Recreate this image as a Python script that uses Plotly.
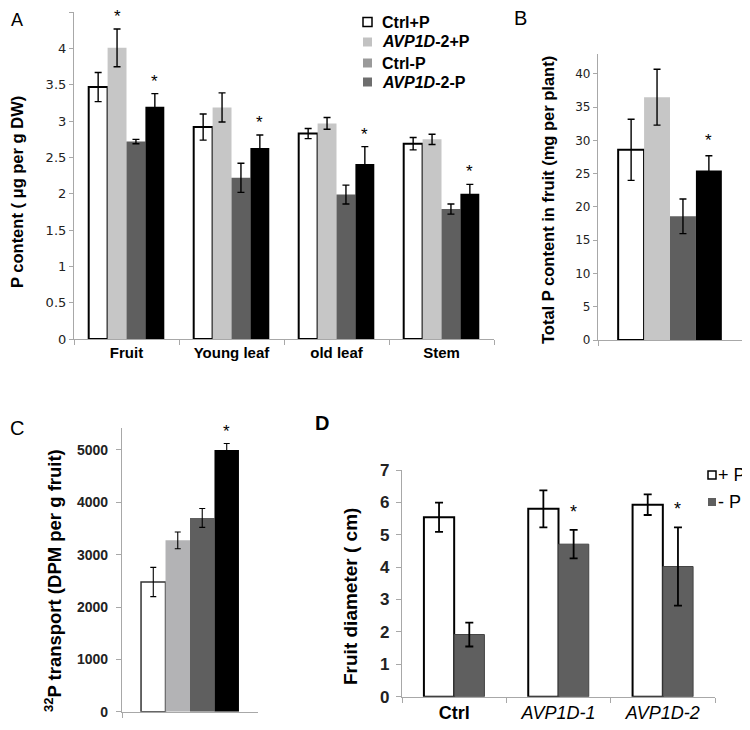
import plotly.graph_objects as go

# ---------------- data ----------------
# Panel A: P content (ug per g DW)
a_categories = ["Fruit", "Young leaf", "old leaf", "Stem"]
a_series = ["Ctrl+P", "AVP1D-2+P", "Ctrl-P", "AVP1D-2-P"]
a_ctrl_p = [3.47, 2.92, 2.83, 2.69]
a_avp_p = [4.01, 3.19, 2.97, 2.75]
a_ctrl_np = [2.72, 2.22, 1.99, 1.79]
a_avp_np = [3.20, 2.63, 2.41, 2.00]
a_err_ctrl_p = [0.20, 0.18, 0.07, 0.085]
a_err_avp_p = [0.26, 0.20, 0.08, 0.07]
a_err_ctrl_np = [0.03, 0.20, 0.13, 0.07]
a_err_avp_np = [0.18, 0.18, 0.24, 0.13]
a_sig = [(1, 0), (3, 0), (3, 1), (3, 2), (3, 3)]  # (series index, category index)

# Panel B: total P content in fruit (mg per plant)
b_values = [28.6, 36.5, 18.6, 25.5]
b_errors = [4.6, 4.2, 2.6, 2.2]
b_sig = [3]

# Panel C: 32P transport (DPM per g fruit)
c_values = [2478, 3274, 3701, 5000]
c_errors = [280, 160, 180, 125]
c_sig = [3]

# Panel D: fruit diameter (cm)
d_categories = ["Ctrl", "AVP1D-1", "AVP1D-2"]
d_plus_p = [5.54, 5.80, 5.93]
d_minus_p = [1.92, 4.71, 4.02]
d_err_plus = [0.45, 0.57, 0.32]
d_err_minus = [0.37, 0.44, 1.21]
d_sig = [(1, 1), (1, 2)]

# ---------------- styles ----------------
ARIAL = "Liberation Sans, Arial, sans-serif"
VERD = "DejaVu Sans, Verdana, sans-serif"
AX = "#a8a8a8"
# the page body adds an 8px margin, so the figure is drawn 8px in and 8px down
OX, OY = 8, 8
W, H = 742, 722

fig = go.Figure()

bar_fill_a = ["white", "#c6c6c6", "#5f5f5f", "#000000"]
bar_fill_c = ["white", "#b3b3b5", "#5f5f5f", "#000000"]
bw = 0.18
offs = [-0.36, -0.18, 0.0, 0.18]

a_vals = [a_ctrl_p, a_avp_p, a_ctrl_np, a_avp_np]
a_errs = [a_err_ctrl_p, a_err_avp_p, a_err_ctrl_np, a_err_avp_np]

def err(arr, w=3.5, t=1.4):
    return dict(type="data", array=arr, color="black", thickness=t, width=w, visible=True)

def line_for(i):
    return dict(color="black", width=2) if i == 0 else dict(width=0)

for i in range(4):
    fig.add_trace(go.Bar(x=a_categories, y=a_vals[i], width=bw, offset=offs[i],
                         marker=dict(color=bar_fill_a[i], line=line_for(i)),
                         error_y=err(a_errs[i]), name=a_series[i], showlegend=False,
                         xaxis="x", yaxis="y"))

for i in range(4):
    fig.add_trace(go.Bar(x=["fruit"], y=[b_values[i]], width=bw, offset=offs[i],
                         marker=dict(color=bar_fill_a[i], line=line_for(i)),
                         error_y=err([b_errors[i]]), name=a_series[i], showlegend=False,
                         xaxis="x2", yaxis="y2"))

for i in range(4):
    fig.add_trace(go.Bar(x=["fruit"], y=[c_values[i]], width=bw, offset=offs[i],
                         marker=dict(color=bar_fill_c[i],
                                     line=dict(color="#333", width=1.5) if i == 0 else dict(width=0)),
                         error_y=err([c_errors[i]], w=3, t=1.1), name=a_series[i], showlegend=False,
                         xaxis="x3", yaxis="y3"))

d_bw = 0.29
fig.add_trace(go.Bar(x=d_categories, y=d_plus_p, width=d_bw, offset=-d_bw,
                     marker=dict(color="white", line=dict(color="black", width=2)),
                     error_y=err(d_err_plus, w=4, t=1.8), name="+ P", showlegend=False,
                     xaxis="x4", yaxis="y4"))
fig.add_trace(go.Bar(x=d_categories, y=d_minus_p, width=d_bw, offset=0,
                     marker=dict(color="#5f5f5f", line=dict(color="#444", width=1)),
                     error_y=err(d_err_minus, w=4, t=1.8), name="- P", showlegend=False,
                     xaxis="x4", yaxis="y4"))

def fx(x):
    return (x - OX) / W

def fy(y):
    return 1 - (y - OY) / H

def px(x0, x1, y0, y1):
    return [fx(x0), fx(x1)], [fy(y1), fy(y0)]

ax_dom, ay_dom = px(74, 494, 12.3, 339)
bx_dom, by_dom = px(598, 742, 54, 340)
cx_dom, cy_dom = px(122, 258, 428, 711.7)
dx_dom, dy_dom = px(402, 715, 470, 696.7)

def yax(dom, rng, dtick, anchor, font, ticklen=4, standoff=None):
    d = dict(domain=dom, range=rng, dtick=dtick, anchor=anchor, showgrid=False,
             zeroline=False, showline=True, linecolor=AX, linewidth=1.2, automargin=False,
             ticks="outside", ticklen=ticklen, tickcolor=AX, tickfont=font)
    if standoff is not None:
        d["ticklabelstandoff"] = standoff
    return d

def xax(dom, anchor, font=None, show=True, tickvals=None, ticktext=None):
    d = dict(domain=dom, anchor=anchor, type="category", showgrid=False, zeroline=False,
             showline=True, linecolor=AX, linewidth=1.2, ticks="outside", ticklen=5,
             automargin=False, tickcolor=AX, tickson="boundaries", showticklabels=show)
    if font is not None:
        d["tickfont"] = font
    if tickvals is not None:
        d["tickvals"] = tickvals
        d["ticktext"] = ticktext
    return d

fig.update_layout(
    width=W, height=H, margin=dict(l=0, r=0, t=0, b=0, autoexpand=False),
    paper_bgcolor="white", plot_bgcolor="white", barmode="overlay", showlegend=False,
    xaxis=xax(ax_dom, "y", dict(family=ARIAL, size=15, color="black", weight="bold")),
    yaxis=yax(ay_dom, [0, 4.5], 0.5, "x", dict(family=VERD, size=13, color="#222")),
    xaxis2=xax(bx_dom, "y2", show=False),
    yaxis2=yax(by_dom, [0, 43], 5, "x2", dict(family=VERD, size=12, color="#222")),
    xaxis3=xax(cx_dom, "y3", show=False),
    yaxis3=yax(cy_dom, [0, 5420], 1000, "x3", dict(family=ARIAL, size=14, color="#222", weight="bold"),
               ticklen=5, standoff=5),
    xaxis4=xax(dx_dom, "y4", dict(family=ARIAL, size=18, color="black"),
               tickvals=d_categories,
               ticktext=["<b>" + d_categories[0] + "</b>"] + ["<i>" + c + "</i>" for c in d_categories[1:]]),
    yaxis4=yax(dy_dom, [0, 7], 1, "x4", dict(family=ARIAL, size=17, color="#222", weight="bold"),
               ticklen=5, standoff=3),
)

ann = []
def star(xref, yref, x, y, size=17, shift=0):
    ann.append(dict(xref=xref, yref=yref, x=x, y=y, text="*", showarrow=False,
                    yanchor="bottom", yshift=shift, font=dict(family=ARIAL, size=size, color="black")))

for s, c in a_sig:
    star("x", "y", c + offs[s] + bw / 2, a_vals[s][c] + a_errs[s][c], shift=1)
for s in b_sig:
    star("x2", "y2", offs[s] + bw / 2, b_values[s] + b_errors[s], shift=4)
for s in c_sig:
    star("x3", "y3", offs[s] + bw / 2, c_values[s] + c_errors[s], shift=0)
for s, c in d_sig:
    vals = [d_plus_p, d_minus_p][s]
    errs = [d_err_plus, d_err_minus][s]
    star("x4", "y4", c - d_bw + s * d_bw + d_bw / 2, vals[c] + errs[c], size=18, shift=6)

def ptext(x, y, text, size, weight="normal", angle=0, xanchor="center", family=ARIAL):
    ann.append(dict(xref="paper", yref="paper", x=fx(x), y=fy(y), text=text, showarrow=False,
                    textangle=angle, xanchor=xanchor, yanchor="middle",
                    font=dict(family=family, size=size, color="black", weight=weight)))

# axis titles
ptext(17, 192, "P content ( μg per g DW)", 16.5, "bold", -90)
ptext(548, 200, "Total P content in fruit (mg per plant)", 16.5, "bold", -90)
ptext(53, 581, "<sup>32</sup>P transport (DPM per g fruit)", 18.5, "bold", -90)
ptext(350, 597, "Fruit diameter ( cm)", 19, "bold", -90)

# panel letters
ptext(17, 19.5, "A", 18)
ptext(520, 18, "B", 20)
ptext(17, 428, "C", 20)
ptext(322, 423, "D", 20, "bold")

# legend A
leg_a_fill = ["white", "#c2c2c2", "#9a9a9a", "#6e6e6e"]
leg_a_text = ["Ctrl+P", "<i>AVP1D</i>-2+P", "Ctrl-P", "<i>AVP1D</i>-2-P"]
shapes = []
for i, yc in enumerate([22, 42, 63, 82]):
    shapes.append(dict(type="rect", xref="paper", yref="paper",
                       x0=fx(363), x1=fx(372), y0=fy(yc + 4.5), y1=fy(yc - 4.5),
                       fillcolor=leg_a_fill[i],
                       line=dict(color="black", width=1.5) if i == 0 else dict(width=0)))
    ptext(380, yc, leg_a_text[i], 16, "bold", xanchor="left")

# legend D
for i, (yc, t, fc) in enumerate([(475, "+ P", "white"), (502, "- P", "#5f5f5f")]):
    shapes.append(dict(type="rect", xref="paper", yref="paper",
                       x0=fx(708), x1=fx(716), y0=fy(yc + 4), y1=fy(yc - 4),
                       fillcolor=fc, line=dict(color="black", width=1.5) if i == 0 else dict(width=0)))
    ptext(716, yc, t, 18, xanchor="left")

fig.update_layout(annotations=ann, shapes=shapes)
fig.write_html("out.html")
